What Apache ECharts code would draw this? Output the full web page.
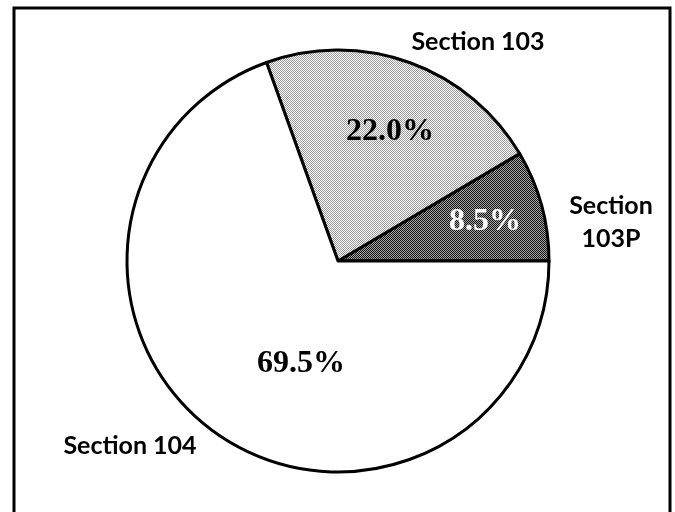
<!DOCTYPE html>
<html>
<head>
<meta charset="utf-8">
<script src="https://cdn.jsdelivr.net/npm/echarts@6/dist/echarts.min.js"></script>
<style>html,body{margin:0;padding:0;background:#fff;}#c{width:675px;height:512px;}</style>
</head>
<body>
<div id="c"></div>
<script>
var categories = ['Section 103P', 'Section 103', 'Section 104'];
var shares = [8.5, 22.0, 69.5];

function makePattern(a, b) {
  var cv = document.createElement('canvas');
  cv.width = 4; cv.height = 4;
  var ctx = cv.getContext('2d');
  for (var y = 0; y < 4; y++) {
    for (var x = 0; x < 4; x++) {
      ctx.fillStyle = ((x + y) % 2 === 0) ? a : b;
      ctx.fillRect(x, y, 1, 1);
    }
  }
  return { image: cv, repeat: 'repeat' };
}
var fills = [makePattern('#111111', '#a8a8a8'), makePattern('#9a9a9a', '#ffffff'), '#ffffff'];

var chart = echarts.init(document.getElementById('c'), null, { renderer: 'canvas' });

var nameFont = { fontFamily: 'Lato', fontWeight: 'bold', fontSize: 25, fill: '#000' };
var pctFont = { fontFamily: 'Liberation Serif', fontWeight: 'bold', fontSize: 32 };

function pct(i) { return shares[i].toFixed(1) + '%'; }

chart.setOption({
  animation: false,
  backgroundColor: '#fff',
  graphic: [
    { type: 'rect', shape: { x: 14, y: 8, width: 656, height: 520 }, style: { fill: 'none', stroke: '#000', lineWidth: 3 }, z: 0 },
    { type: 'text', x: 478, y: 42, style: Object.assign({ text: categories[1], align: 'center', verticalAlign: 'middle' }, nameFont), z: 10 },
    { type: 'text', x: 611, y: 222, style: Object.assign({ text: categories[0].replace(' ', '\n'), align: 'center', verticalAlign: 'middle', lineHeight: 33 }, nameFont), z: 10 },
    { type: 'text', x: 130, y: 446, style: Object.assign({ text: categories[2], align: 'center', verticalAlign: 'middle' }, nameFont), z: 10 },
    { type: 'text', x: 390, y: 132, style: Object.assign({ text: pct(1), align: 'center', verticalAlign: 'middle', fill: '#000' }, pctFont), z: 10 },
    { type: 'text', x: 485, y: 222, style: Object.assign({ text: pct(0), align: 'center', verticalAlign: 'middle', fill: '#fff' }, pctFont), z: 10 },
    { type: 'text', x: 301, y: 364, style: Object.assign({ text: pct(2), align: 'center', verticalAlign: 'middle', fill: '#000' }, pctFont), z: 10 }
  ],
  series: [{
    type: 'pie',
    center: [338, 261],
    radius: 211,
    startAngle: 0,
    clockwise: false,
    avoidLabelOverlap: false,
    label: { show: false },
    labelLine: { show: false },
    emphasis: { disabled: true },
    itemStyle: { borderColor: '#000', borderWidth: 3 },
    data: categories.map(function (n, i) {
      return { name: n, value: shares[i], itemStyle: { color: fills[i] } };
    })
  }]
});
</script>
</body>
</html>
